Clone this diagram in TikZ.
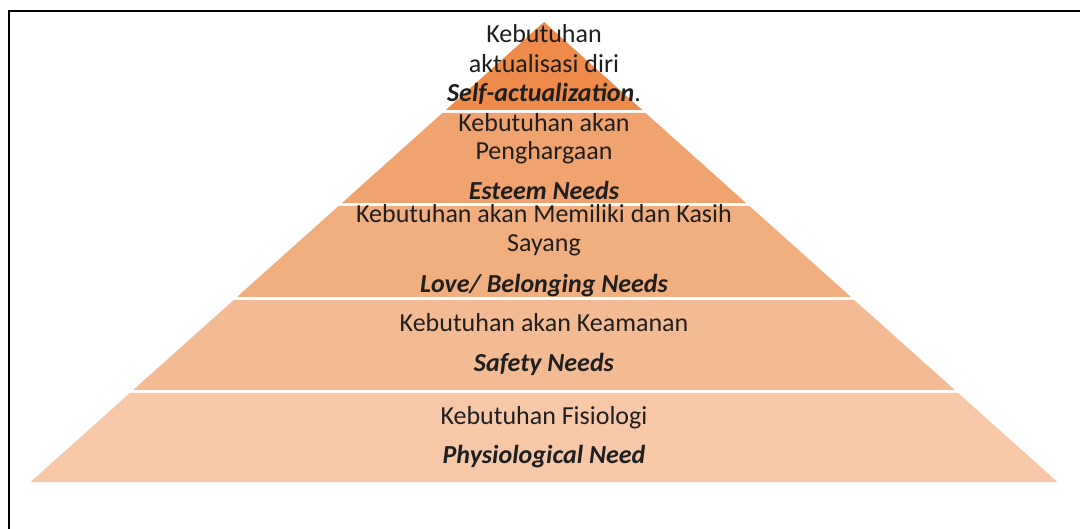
\documentclass[tikz,border=0pt]{standalone}
\usepackage{fontspec}
\setmainfont{Carlito}
\usepackage{tikz}

\definecolor{tierA}{RGB}{238,139,75}
\definecolor{tierB}{RGB}{240,163,111}
\definecolor{tierC}{RGB}{241,175,128}
\definecolor{tierD}{RGB}{243,187,148}
\definecolor{tierE}{RGB}{246,200,168}

\begin{document}
\begin{tikzpicture}[x=1pt,y=-1pt,
    txt/.style={anchor=base,inner sep=0pt,text=black!88,font=\fontsize{26}{30}\selectfont},
    entxt/.style={txt,font=\fontsize{26}{30}\selectfont\bfseries\itshape}]
      \useasboundingbox[fill=white] (0,0) rectangle (1080,529);

      % Frame
        \draw[line width=2pt] (1080,11) -- (9,11) -- (9,529);

      % Tiers
        \fill[tierA] (544,22) -- (642.2,110) -- (445.8,110) -- cycle;
        \fill[tierB] (442.4,113) -- (645.6,113) -- (746,203) -- (342,203) -- cycle;
        \fill[tierC] (338.6,206) -- (749.4,206) -- (851,297) -- (237,297) -- cycle;
        \fill[tierD] (233.7,300) -- (854.3,300) -- (954.8,390) -- (133.2,390) -- cycle;
        \fill[tierE] (129.9,393) -- (958.1,393) -- (1057.5,482) -- (30.5,482) -- cycle;

      % Labels
        \node[txt] (top1) at (544,43) {Kebutuhan};
        \node[txt] (top2) at (544,72.5) {aktualisasi diri};
        \node[txt] (top3) at (544,101.5) {\textbf{\textit{Self-actualization}}.};

        \node[txt] (est1) at (544,131.5) {Kebutuhan akan};
        \node[txt] (est2) at (544,160) {Penghargaan};
        \node[entxt] (est3) at (544,200) {Esteem Needs};

        \node[txt] (love1) at (544,223) {Kebutuhan akan Memiliki dan Kasih};
        \node[txt] (love2) at (544,252) {Sayang};
        \node[entxt] (love3) at (544,293) {Love/ Belonging Needs};

        \node[txt] (safe1) at (544,331.5) {Kebutuhan akan Keamanan};
        \node[entxt] (safe2) at (544,371.5) {Safety Needs};

        \node[txt] (phys1) at (544,424.5) {Kebutuhan Fisiologi};
        \node[entxt] (phys2) at (544,463.5) {Physiological Need};

    \end{tikzpicture}
\end{document}
